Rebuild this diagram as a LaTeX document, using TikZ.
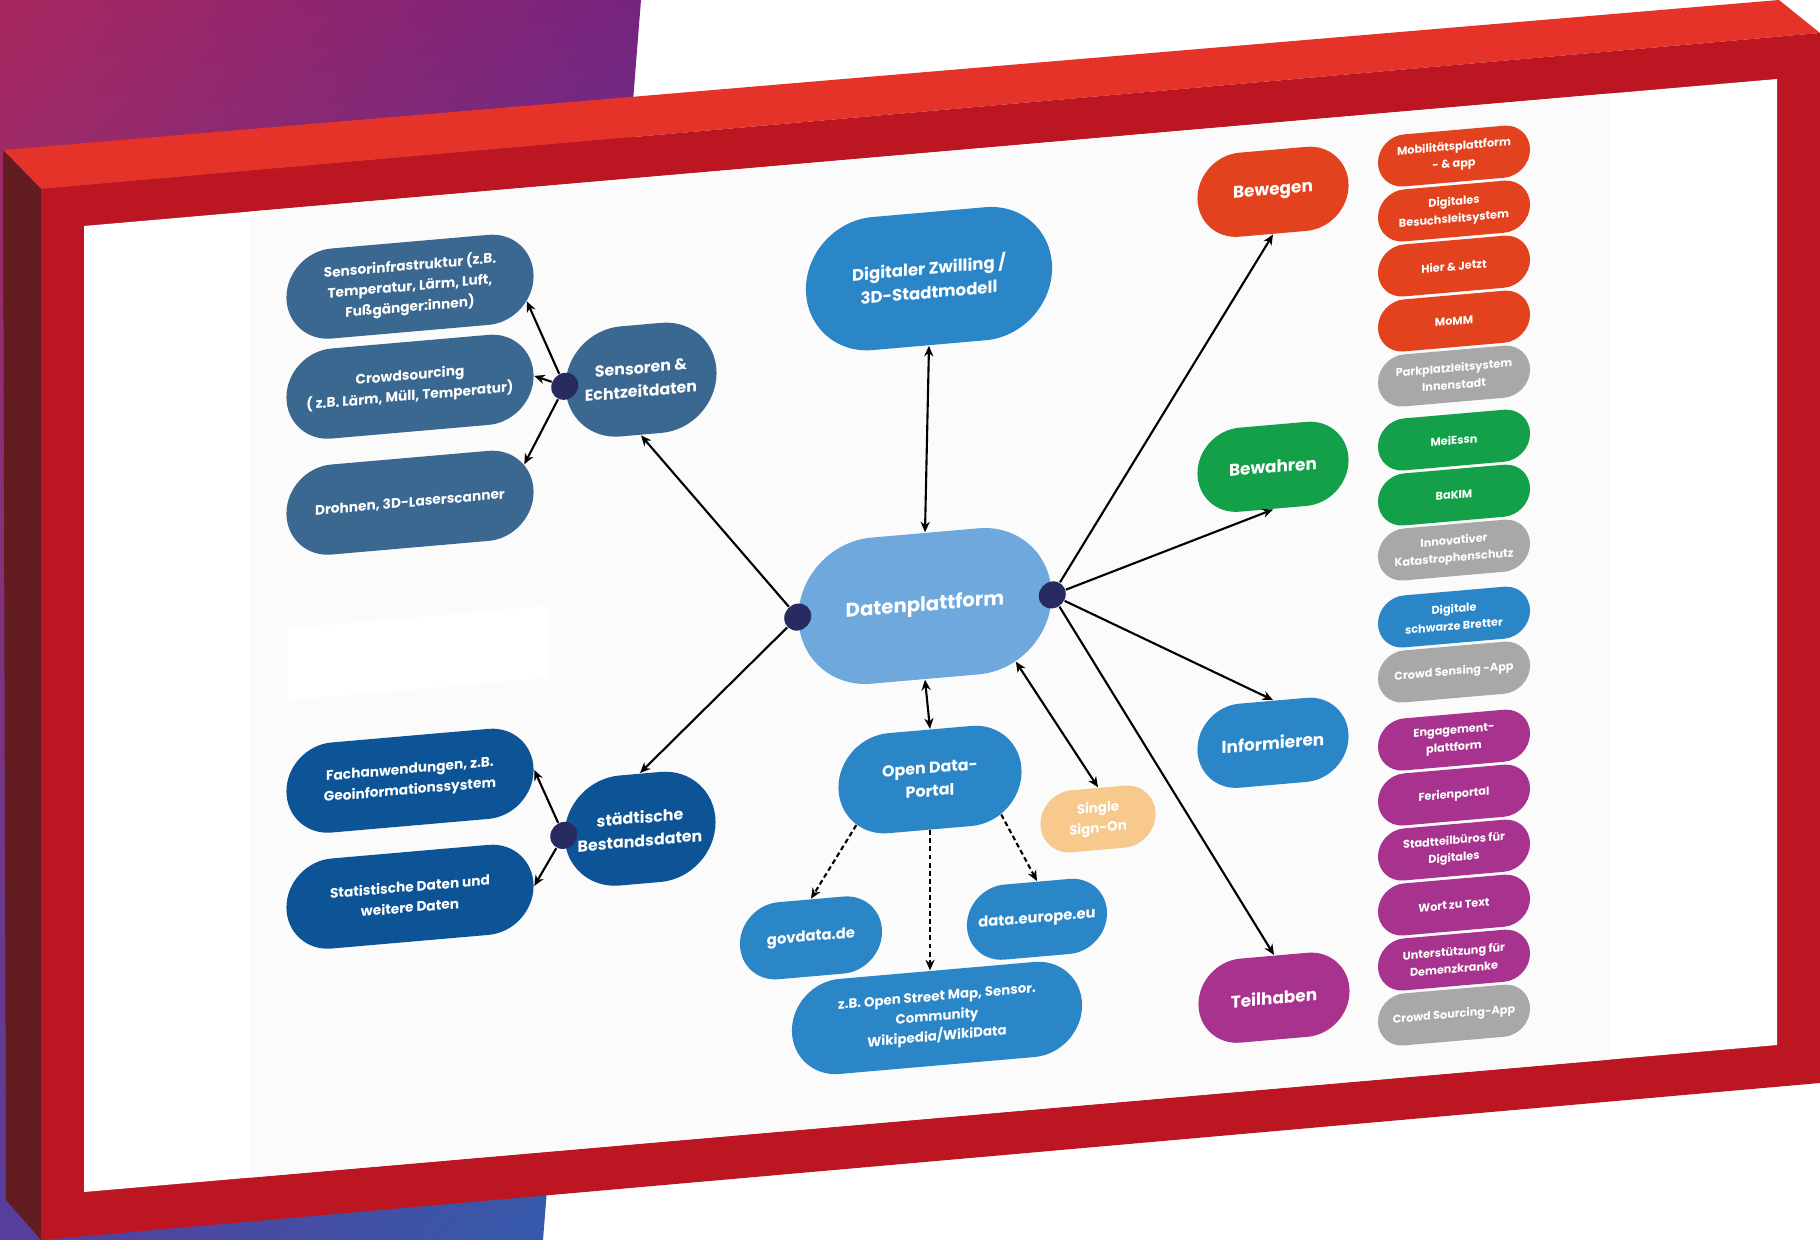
\documentclass[tikz,border=0pt]{standalone}
\usepackage{fontspec}
\setmainfont{Poppins}
\usetikzlibrary{shapes.misc,arrows.meta,shadings}

\definecolor{bgA}{HTML}{A8275F}
\definecolor{bgB}{HTML}{76237F}
\definecolor{bgC}{HTML}{573E9C}
\definecolor{bgD}{HTML}{2F5FAE}
\definecolor{frametop}{HTML}{E5332A}
\definecolor{framefront}{HTML}{BC1622}
\definecolor{frameside}{HTML}{631C20}
\definecolor{lightblue}{HTML}{6FA8DC}
\definecolor{blu}{HTML}{2B86C8}
\definecolor{steel}{HTML}{3A6891}
\definecolor{navy}{HTML}{0D5497}
\definecolor{dotnavy}{HTML}{272B60}
\definecolor{bwg}{HTML}{E3421F}
\definecolor{grn}{HTML}{13A049}
\definecolor{gry}{HTML}{A8A8A8}
\definecolor{mag}{HTML}{A8338F}
\definecolor{sand}{HTML}{F7C98C}

\begin{document}
\begin{tikzpicture}[x=0.01cm,y=-0.01cm,
  pill/.style={rounded rectangle,inner sep=0pt,text=white,align=center},
  hub/.style={pill,font=\fontsize{4.5}{6.6}\selectfont\bfseries},
  cat/.style={pill,fill=#1,minimum width=1.51cm,minimum height=0.84cm,
    font=\fontsize{4.8}{6}\selectfont\bfseries},
  leaf/.style={pill,minimum width=2.47cm,minimum height=0.9cm,
    font=\fontsize{3.9}{5.9}\selectfont\bfseries},
  src/.style={pill,fill=blu,font=\fontsize{4.2}{5.2}\selectfont\bfseries},
  item/.style={pill,minimum width=1.52cm,minimum height=0.52cm,
    font=\fontsize{3.2}{4.9}\selectfont\bfseries},
  joint/.style={circle,fill=dotnavy,inner sep=0pt,minimum size=0.27cm},
  link/.style={-{Stealth[length=3pt,width=2.6pt]},line width=0.6pt},
  dlink/.style={{Stealth[length=3pt,width=2.6pt]}-{Stealth[length=3pt,width=2.6pt]},
    line width=0.6pt},
  dashlink/.style={link,dash pattern=on 1.4pt off 0.9pt}]
  \useasboundingbox (0,0) rectangle (1820,1240);

  % Backdrop and frame
  \shade[upper left=bgA,upper right=bgB,lower left=bgC,lower right=bgD]
    (0,0) -- (641,0) -- (543,1240) -- (0,1240) -- cycle;
  \fill[frametop] (3,150) -- (1779,0) -- (1820,33) -- (41,189) -- cycle;
  \fill[frameside] (3,150) -- (41,189) -- (41,1240) -- (6,1200) -- cycle;
  \fill[framefront] (41,189) -- (1820,33) -- (1820,1083) -- (41,1240) -- cycle;

  \begin{scope}[shift={(0,7.3)},yslant=0.0868,transform shape]
    % Board
    \fill[white] (84,226) rectangle (1777,1192);
    \fill[black!1.5] (250,226) rectangle (1609,1192);
    \fill[white] (287,646) rectangle (549,718);

    % Centre
    \node[hub,fill=lightblue,minimum width=2.53cm,minimum height=1.46cm,
      font=\fontsize{5.6}{6.6}\selectfont\bfseries] (dp) at (925,679) {Datenplattform};
    \node[hub,fill=blu,minimum width=2.46cm,minimum height=1.33cm,
      font=\fontsize{4.7}{6.8}\selectfont\bfseries] (dz) at (929,352)
      {Digitaler Zwilling /\\3D-Stadtmodell};
    \node[hub,fill=steel,minimum width=1.51cm,minimum height=1.1cm] (sens) at (641,428)
      {Sensoren \&\\Echtzeitdaten};
    \node[hub,fill=navy,minimum width=1.51cm,minimum height=1.1cm] (stb) at (640,877)
      {städtische\\Bestandsdaten};
    \node[hub,fill=blu,minimum width=1.83cm,minimum height=1cm] (odp) at (930,853)
      {Open Data-\\Portal};
    \node[pill,fill=sand,minimum width=1.15cm,minimum height=0.62cm,
      font=\fontsize{3.8}{5.8}\selectfont\bfseries] (sso) at (1098,907) {Single\\Sign-On};

    % Sources
    \node[leaf,fill=steel] (sinf) at (410,315)
      {Sensorinfrastruktur (z.B.\\Temperatur, Lärm, Luft,\\Fußgänger:innen)};
    \node[leaf,fill=steel] (crowd) at (410,415)
      {Crowdsourcing\\( z.B. Lärm, Müll, Temperatur)};
    \node[leaf,fill=steel] (dro) at (410,531) {Drohnen, 3D-Laserscanner};
    \node[leaf,fill=navy] (fach) at (410,809)
      {Fachanwendungen, z.B.\\Geoinformationssystem};
    \node[leaf,fill=navy] (stat) at (410,925)
      {Statistische Daten und\\weitere Daten};
    \node[src,minimum width=1.42cm,minimum height=0.77cm] (gov) at (811,1001) {govdata.de};
    \node[src,minimum width=1.4cm,minimum height=0.75cm] (deu) at (1037,1002) {data.europe.eu};
    \node[src,minimum width=2.9cm,minimum height=0.95cm,
      font=\fontsize{3.8}{5.7}\selectfont\bfseries] (osm) at (937,1092)
      {z.B. Open Street Map, Sensor.\\Community\\Wikipedia/WikiData};

    % Fields of action
    \node[cat=bwg] (bew) at (1273,295) {Bewegen};
    \node[cat=grn] (bwh) at (1273,570) {Bewahren};
    \node[cat=blu] (inf) at (1273,846) {Informieren};
    \node[cat=mag] (teil) at (1274,1101) {Teilhaben};

    % Projects
    \foreach \v/\c/\t [count=\i] in {
      275/bwg/{Mobilitätsplattform\\- \& app},
      330/bwg/{Digitales\\Besuchsleitsystem},
      385/bwg/{Hier \& Jetzt},
      440/bwg/MoMM,
      495/gry/{Parkplatzleitsystem\\Innenstadt},
      559/grn/MeiEssn,
      614/grn/BaKIM,
      669/gry/{Innovativer\\Katastrophenschutz},
      736/blu/{Digitale\\schwarze Bretter},
      791/gry/{Crowd Sensing -App},
      859/mag/{Engagement-\\plattform},
      914/mag/Ferienportal,
      969/mag/{Stadtteilbüros für\\Digitales},
      1024/mag/{Wort zu Text},
      1079/mag/{Unterstützung für\\Demenzkranke},
      1134/gry/{Crowd Sourcing-App}}
      \node[item,fill=\c] (p\i) at (1454,\v) {\t};

    % Joints
    \node[joint] (jl) at (dp.west) {};
    \node[joint] (jr) at (dp.east) {};
    \node[joint] (js) at (sens.west) {};
    \node[joint] (jb) at (stb.west) {};

    % Connectors
    \draw[dlink] (dp.north) -- (dz.south);
    \draw[dlink] (dp.south) -- (odp.north);
    \draw[dlink] (dp.-35) -- (sso.north);
    \draw[link] (jl) -- (sens.south);
    \draw[link] (jl) -- (stb.north);
    \foreach \t/\a in {bew/south,bwh/south,inf/north,teil/north}
      \draw[link] (jr) -- (\t.\a);
    \draw[link] (js) -- (sinf.-12);
    \draw[link] (js) -- (crowd.east);
    \draw[link] (js) -- (dro.14);
    \draw[link] (jb) -- (fach.east);
    \draw[link] (jb) -- (stat.east);
    \draw[dashlink] (odp.-152) -- (gov.north);
    \draw[dashlink] (odp.south) -- (odp.south |- osm.north);
    \draw[dashlink] (odp.-30) -- (deu.north);
  \end{scope}
\end{tikzpicture}
\end{document}
